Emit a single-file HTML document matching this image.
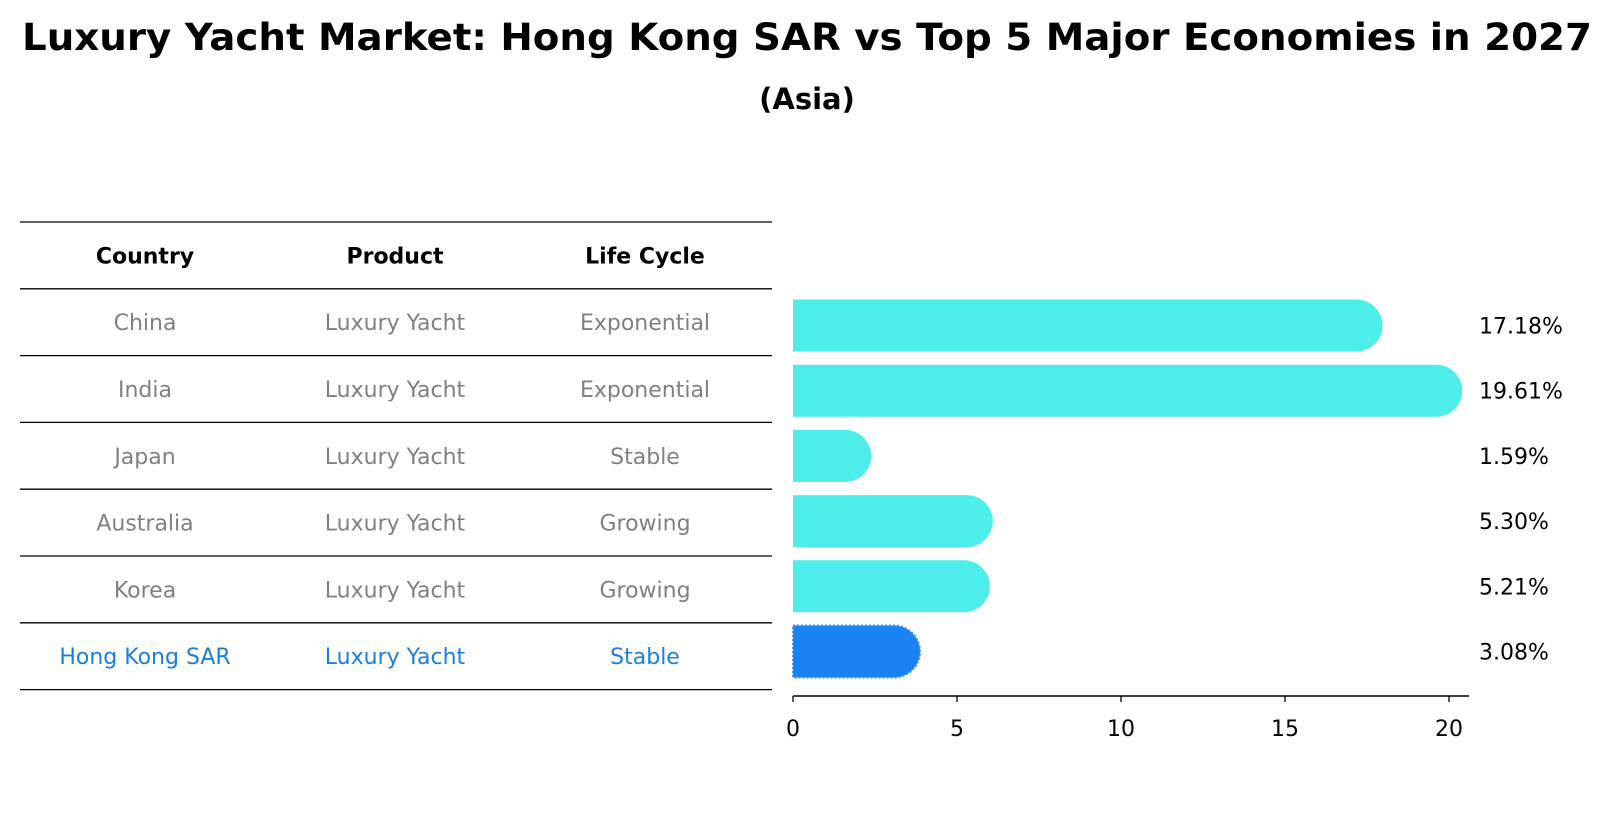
<!DOCTYPE html>
<html><head><meta charset="utf-8">
<style>
html,body{margin:0;padding:0;background:#fff;}
svg{display:block;font-family:"DejaVu Sans","Liberation Sans",sans-serif;}
</style></head>
<body>
<svg id="chart" width="1614" height="823" viewBox="0 0 1614 823">
  <text x="807" y="50" text-anchor="middle" font-size="37" font-weight="bold" textLength="1570" lengthAdjust="spacingAndGlyphs">Luxury Yacht Market: Hong Kong SAR vs Top 5 Major Economies in 2027</text>
  <text x="807" y="109" text-anchor="middle" font-size="29" font-weight="bold">(Asia)</text>
  <g id="table"></g>
  <g id="bars"></g>
</svg>
<script>
const countries = ["China","India","Japan","Australia","Korea","Hong Kong SAR"];
const products = ["Luxury Yacht","Luxury Yacht","Luxury Yacht","Luxury Yacht","Luxury Yacht","Luxury Yacht"];
const lifeCycles = ["Exponential","Exponential","Stable","Growing","Growing","Stable"];
const growthValues = [17.18,19.61,1.59,5.30,5.21,3.08];
const tickValues = [0,5,10,15,20];

const NS = "http://www.w3.org/2000/svg";
function mk(tag, attrs, parent){
  const e = document.createElementNS(NS, tag);
  for (const k in attrs) e.setAttribute(k, attrs[k]);
  parent.appendChild(e);
  return e;
}
const table = document.getElementById('table');
const bars = document.getElementById('bars');

// table geometry
const lineY0 = 222, rowH = 66.8;
const colX = [145, 395, 645];
const lineX1 = 20, lineX2 = 772;
for (let i = 0; i <= countries.length + 1; i++) {
  const y = lineY0 + i * rowH;
  const l = mk('line', {x1: lineX1, x2: lineX2, y1: y, y2: y, stroke: '#000', 'stroke-width': 1.3}, table);
  
  
}
const headers = ["Country","Product","Life Cycle"];
headers.forEach((h, j) => {
  const t = mk('text', {x: colX[j], y: lineY0 + rowH/2 + 8, 'text-anchor': 'middle', 'font-size': 22, 'font-weight': 'bold', fill: '#000'}, table);
  t.textContent = h;
  
  
});
countries.forEach((c, i) => {
  const hk = i === countries.length - 1;
  const y = lineY0 + (i + 1) * rowH + rowH/2 + 8;
  const vals = [c, products[i], lifeCycles[i]];
  vals.forEach((v, j) => {
    const t = mk('text', {x: colX[j], y: y, 'text-anchor': 'middle', 'font-size': 22, fill: hk ? '#1a80dc' : '#808080'}, table);
    t.textContent = v;
    
    
  });
});

// bar chart axes
const x0 = 793, unit = 32.8;
const xScale = v => x0 + v * unit;
const barTop0 = 299.5, barStep = 65.2, barH = 52;
const axisY = 696;
const ax = mk('line', {x1: x0, x2: 1469, y1: axisY, y2: axisY, stroke: '#000', 'stroke-width': 1.5}, bars);


tickValues.forEach(v => {
  const tk = mk('line', {x1: xScale(v), x2: xScale(v), y1: axisY, y2: axisY + 6, stroke: '#000', 'stroke-width': 1.3}, bars);
  
  
  const tl = mk('text', {x: xScale(v), y: axisY + 40, 'text-anchor': 'middle', 'font-size': 22, fill: '#000'}, bars);
  tl.textContent = String(v);
  
  
});
growthValues.forEach((v, i) => {
  const hk = i === growthValues.length - 1;
  const top = barTop0 + i * barStep;
  const r = barH / 2;
  const xe = xScale(v);
  const d = `M${x0},${top} L${xe},${top} A${r},${r} 0 0 1 ${xe},${top + barH} L${x0},${top + barH} Z`;
  const p = mk('path', {d: d, fill: hk ? '#1a82f2' : '#4deeea'}, bars);
  if (hk) { p.setAttribute('stroke', '#3a90f0'); p.setAttribute('stroke-width', 2); p.setAttribute('stroke-dasharray', '2 2'); }
  
  
  const lbl = mk('text', {x: 1479, y: top + barH/2 + 8, 'font-size': 22, fill: '#000'}, bars);
  lbl.textContent = v.toFixed(2) + '%';
  
  
});
</script>
</body></html>
